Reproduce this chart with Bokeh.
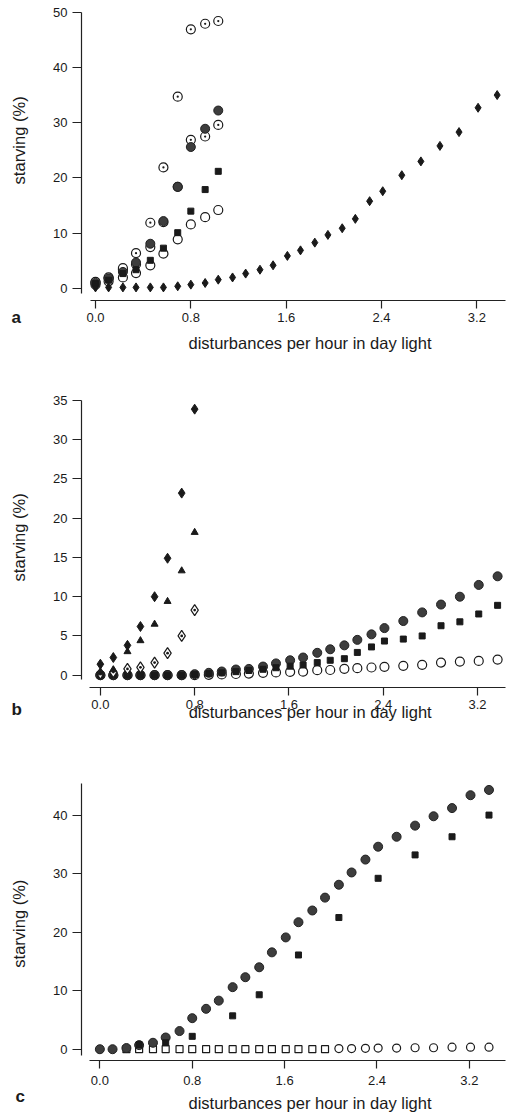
from bokeh.plotting import figure
from bokeh.layouts import column
from bokeh.models import Range1d, FixedTicker, LinearAxis, Title
from bokeh.embed import file_html
from bokeh.resources import INLINE

# ---------------- data ----------------
# disturbances per hour in day light (shared grid)
dist = [0.00, 0.11, 0.23, 0.34, 0.46, 0.57, 0.69, 0.80, 0.92, 1.03, 1.15, 1.26, 1.38, 1.49,
        1.61, 1.72, 1.84, 1.95, 2.07, 2.18, 2.30, 2.41, 2.57, 2.73, 2.89, 3.05, 3.21, 3.37]
dist_short = dist[:10]
dist_b_short = dist[:8]

x_tick_values = [0.0, 0.8, 1.6, 2.4, 3.2]
x_tick_labels = ["0.0", "0.8", "1.6", "2.4", "3.2"]
a_y_ticks = [0, 10, 20, 30, 40, 50]
b_y_ticks = [0, 5, 10, 15, 20, 25, 30, 35]
c_y_ticks = [0, 10, 20, 30, 40]
x_title = "disturbances per hour in day light"
y_title = "starving (%)"

# panel a
a_circle_dot = [1.2, 2.0, 3.7, 6.4, 11.9, 21.9, 34.7, 46.9, 47.9, 48.4]
a_gray = [1.0, 1.8, 3.0, 4.7, 8.1, 12.2, 18.4, 25.6, 28.9, 32.2]
a_open_dot = [1.1, 1.9, 3.4, 4.4, 7.5, 12.0, 18.4, 26.9, 27.5, 29.6]
a_square = [0.9, 1.5, 2.7, 3.4, 5.1, 7.3, 10.1, 14.0, 17.9, 21.2]
a_open = [0.7, 1.3, 2.0, 2.8, 4.2, 6.3, 8.9, 11.6, 12.9, 14.2]
a_diamond = [0.2, 0.2, 0.2, 0.2, 0.2, 0.2, 0.4, 0.7, 1.0, 1.6, 2.0, 2.7, 3.4, 4.2,
             5.9, 6.9, 8.3, 9.7, 10.9, 12.6, 15.8, 17.6, 20.5, 23.0, 25.8, 28.3, 32.7, 35.0]

# panel b
b_diamond = [1.4, 2.25, 3.8, 6.2, 10.0, 14.9, 23.2, 33.9]
b_triangle = [0.3, 0.7, 3.0, 4.4, 6.5, 9.4, 13.3, 18.2]
b_open_diamond = [0.2, 0.4, 0.8, 1.0, 1.6, 2.8, 5.0, 8.3]
b_gray = [0, 0, 0, 0, 0, 0, 0, 0.13, 0.3, 0.47, 0.72, 0.8, 1.1, 1.5,
          1.9, 2.25, 2.85, 3.3, 3.8, 4.5, 5.2, 6.0, 6.9, 8.0, 9.0, 10.0, 11.5, 12.6]
b_square = [0, 0, 0, 0, 0, 0, 0, 0.1, 0.2, 0.3, 0.45, 0.6, 0.75, 0.95,
            1.15, 1.3, 1.6, 1.9, 2.1, 2.9, 3.6, 4.35, 4.6, 5.0, 6.3, 6.8, 7.8, 8.9]
b_open = [0, 0, 0, 0, 0, 0, 0, 0, 0.05, 0.1, 0.15, 0.2, 0.3, 0.35,
          0.42, 0.45, 0.64, 0.66, 0.81, 0.89, 0.98, 1.06, 1.19, 1.32, 1.61, 1.74, 1.82, 1.99]

# panel c
c_gray = [0, 0, 0.2, 0.7, 1.1, 2.0, 3.1, 5.3, 6.9, 8.3, 10.6, 12.3, 14.0, 16.55,
          19.1, 21.7, 23.7, 25.9, 28.1, 30.2, 32.4, 34.6, 36.3, 38.2, 39.8, 41.2, 43.4, 44.3]
c_square_x = [0.34, 0.57, 0.80, 1.15, 1.38, 1.72, 2.07, 2.41, 2.73, 3.05, 3.37]
c_square = [0.8, 1.1, 2.2, 5.7, 9.3, 16.1, 22.5, 29.2, 33.2, 36.3, 40.0]
c_open_square_x = dist[2:18]
c_open_square = [0, 0, 0, 0, 0, 0, 0, 0, 0, 0, 0, 0, 0, 0, 0, 0]
c_open_x = dist[18:]
c_open = [0.1, 0.1, 0.15, 0.2, 0.2, 0.25, 0.25, 0.35, 0.35, 0.35]

FONT = "Liberation Sans"
INK = "#1a1a1a"
GRAY = "#3d3d3d"


def text_axis(loc, label, size, standoff, orientation="horizontal"):
    """An axis without line or ticks that only carries one label at `loc`."""
    return LinearAxis(bounds=(loc - 0.05, loc + 0.05), ticker=FixedTicker(ticks=[loc]),
                      major_label_overrides={loc: label},
                      major_label_orientation=orientation,
                      axis_line_color=None, major_tick_line_color=None,
                      minor_tick_line_color=None, major_tick_in=0, major_tick_out=0,
                      major_label_standoff=standoff, major_label_text_font=FONT,
                      major_label_text_font_size=size,
                      major_label_text_color=INK)


def make_fig(h, xr, yr, borders, yticks, xbounds, ybounds,
             letter, letter_offset, letter_standoff,
             title_x, title_standoff, tick_standoff, ytitle_y):
    top, bottom = borders
    p = figure(width=507, height=h, x_range=Range1d(*xr), y_range=Range1d(*yr),
               output_backend="svg", toolbar_location=None,
               min_border_left=81, min_border_right=2,
               min_border_top=top, min_border_bottom=bottom)
    p.outline_line_color = None
    p.xgrid.visible = False
    p.ygrid.visible = False
    xa = p.xaxis[0]
    ya = p.yaxis[0]
    xa.ticker = FixedTicker(ticks=x_tick_values)
    xa.major_label_overrides = {v: s for v, s in zip(x_tick_values, x_tick_labels)}
    ya.ticker = FixedTicker(ticks=yticks)
    xa.bounds = xbounds
    ya.bounds = ybounds
    for ax in (xa, ya):
        ax.axis_line_color = "#222222"
        ax.axis_line_width = 1.2
        ax.major_tick_line_color = "#222222"
        ax.major_tick_line_width = 1.2
        ax.major_tick_in = 0
        ax.minor_tick_line_color = None
        ax.major_label_text_font = FONT
        ax.major_label_text_font_size = "13px"
        ax.major_label_text_color = INK
    xa.major_tick_out = 8
    ya.major_tick_out = 9
    xa.major_label_standoff = tick_standoff
    ya.major_label_standoff = 5
    # axis titles as label-only axes, so that they sit where the reference has them
    p.add_layout(text_axis(title_x, x_title, "16.5px", title_standoff), "below")
    p.add_layout(text_axis(ytitle_y, y_title, "16.5px", 22, "vertical"), "left")
    # panel letter
    p.add_layout(Title(text=letter, align="left", offset=letter_offset,
                       vertical_align="top", standoff=letter_standoff,
                       text_font=FONT, text_font_size="17px",
                       text_font_style="bold", text_color=INK), "below")
    return p


def open_circles(p, x, y, size=9):
    p.scatter(x, y, marker="circle", size=size, fill_color="white",
              line_color=INK, line_width=1.2)


# ---------------- panel a ----------------
pa = make_fig(380, (-0.1174, 3.44), (-2.17, 50.3), (10, 80), a_y_ticks,
              (-0.042, 3.44), (-0.9, 50), "a", -70, -93, 1.80, 9, 4, 26.8)
open_circles(pa, dist_short, a_open)
pa.scatter(dist_short, a_open_dot, marker="circle_dot", size=9, fill_color="white",
           line_color=INK, line_width=1.2)
pa.scatter(dist_short, a_circle_dot, marker="circle_dot", size=9, fill_color="white",
           line_color=INK, line_width=1.2)
pa.scatter(dist_short, a_gray, marker="circle", size=9, fill_color=GRAY,
           line_color="#222222", line_width=1)
pa.scatter(dist_short, a_square, marker="square", size=6, fill_color=INK,
           line_color=INK)
pa.scatter(dist, a_diamond, marker="diamond", size=9, fill_color=INK,
           line_color=INK)

# ---------------- panel b ----------------
pb = make_fig(380, (-0.16, 3.437), (-1.57, 35.64), (15, 73), b_y_ticks,
              (-0.09, 3.437), (-0.6, 35), "b", -70, -48, 1.78, -9, 4, 17.56)
open_circles(pb, dist, b_open)
pb.scatter(dist, b_gray, marker="circle", size=9, fill_color=GRAY,
           line_color="#222222", line_width=1)
pb.scatter(dist, b_square, marker="square", size=6, fill_color=INK, line_color=INK)
pb.scatter(dist_b_short, b_open_diamond, marker="diamond_dot", size=11,
           fill_color="white", line_color=INK, line_width=1.2)
pb.scatter(dist_b_short, b_triangle, marker="triangle", size=7, fill_color=INK,
           line_color=INK)
pb.scatter(dist_b_short, b_diamond, marker="diamond", size=10, fill_color=INK,
           line_color=INK)

# ---------------- panel c ----------------
pc = make_fig(357, (-0.159, 3.513), (-1.93, 45.4), (23, 57), c_y_ticks,
              (-0.093, 3.513), (-1.07, 45.4), "c", -66, -55, 1.82, 6, 7, 21.45)
pc.scatter(c_open_square_x, c_open_square, marker="square", size=7,
           fill_color="white", line_color=INK, line_width=1.2)
open_circles(pc, c_open_x, c_open, size=8)
pc.scatter(dist, c_gray, marker="circle", size=9, fill_color=GRAY,
           line_color="#222222", line_width=1)
pc.scatter(c_square_x, c_square, marker="square", size=6, fill_color=INK,
           line_color=INK)

layout = column(pa, pb, pc, spacing=0)
open("out.html", "w").write(file_html(layout, INLINE))
